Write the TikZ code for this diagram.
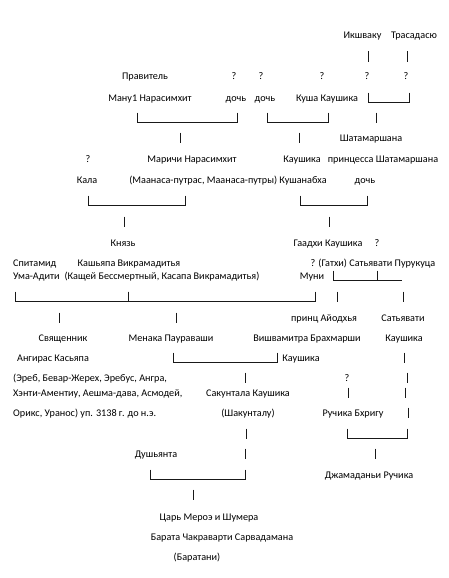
\documentclass[tikz,border=0pt]{standalone}
\usepackage{fontspec}
\setmainfont{Carlito}
\usepackage{tikz}
\tikzset{
  who/.style={anchor=base,inner sep=0pt,font=\fontsize{10.2}{12}\selectfont,text=black},
  whol/.style={who,anchor=base west},
  bar/.style={draw=black!90,line width=0.7pt},
}
% a lone "|" and a "|____|" bracket, given by x and baseline
\newcommand{\vb}[2]{\draw[bar] (#1,#2-8.5) -- (#1,#2+2);}
\newcommand{\brk}[3]{\draw[bar] (#1,#3-8.5) -- (#1,#3+2) (#1,#3+1.5) -- (#2,#3+1.5) (#2,#3-8.5) -- (#2,#3+2);}

\begin{document}
\begin{tikzpicture}[x=1pt,y=-1pt]
\useasboundingbox[fill=white] (0,0) rectangle (448,578);
\node[who](ik) at (362.5,39){Икшваку};\node[who](tr) at (414,39){Трасадасю};
\vb{368}{60}\vb{407}{60}
\node[who](prav) at (145,80){Правитель};\node[who](qa) at (234,80){?};\node[who](qb) at (261,80){?};
\node[who](qc) at (322,80){?};\node[who](qd) at (367,80){?};\node[who](qe) at (406,80){?};
\node[who](manu) at (150,101){Ману1 Нарасимхит};\node[who](da) at (236,101){дочь};\node[who](db) at (265,101){дочь};
\node[who](kusha) at (327,101){Куша Каушика};\brk{368}{409}{101}
\brk{137}{237}{121}\brk{267}{328}{121}\vb{376}{121}
\vb{180}{141}\vb{299}{141}\node[who](shat) at (371,141){Шатамаршана};
\node[who](qf) at (88,162){?};\node[who](mar) at (192,162){Маричи Нарасимхит};\node[who](kau1) at (302,162){Каушика};
\node[who](prin) at (383,162){принцесса Шатамаршана};
\node[who](kala) at (87,183){Кала};\node[who](maan) at (228,183){(Маанаса-путрас, Маанаса-путры) Кушанабха};\node[who](dc) at (365,183){дочь};
\brk{88}{185}{204}\brk{300}{367}{204}
\vb{124}{225}\vb{329}{225}
\node[who](kn) at (123,246){Князь};\node[who](gaad) at (328,246){Гаадхи Каушика};\node[who](qg) at (377,246){?};
\node[whol](spit) at (13,266){Спитамид};\node[who](kash) at (129,266){Кашьяпа Викрамадитья};
\node[who](gath) at (373,266){? (Гатхи) Сатьявати Пурукуца};
\node[whol](uma) at (13,279){Ума-Адити};\node[who](kasch) at (162,279){(Кащей Бессмертный, Касапа Викрамадитья)};
\node[who](muni) at (312,279){Муни};\brk{333}{377}{279}\draw[bar] (377,280.5) -- (402,280.5);
\brk{15}{128}{300}\brk{128}{315}{300}\vb{337}{300}\vb{403}{300}
\vb{59}{321}\vb{176}{321}\node[who](ayod) at (324,321){принц Айодхья};\node[who](saty) at (403,321){Сатьявати};
\node[who](svy) at (63,341){Священник};\node[who](men) at (171,341){Менака Паураваши};
\node[who](vish) at (307,341){Вишвамитра Брахмарши};\node[who](kau2) at (404,341){Каушика};
\node[who](ang) at (53,361){Ангирас Касьяпа};\brk{173}{277}{361}\node[who](kau3) at (301,361){Каушика};\vb{404}{361}
\node[whol](ereb) at (13,381){(Эреб, Бевар-Жерех, Эребус, Ангра,};\vb{245}{381}\node[who](qh) at (347,381){?};\vb{407}{381}
\node[whol](khen) at (13,396){Хэнти-Аментиу, Аешма-дава, Асмодей,};\node[who](sak) at (248,396){Сакунтала Каушика};
\vb{348}{396}\vb{405}{396}
\node[whol](orik) at (13,416){Орикс, Уранос) уп. 3138 г. до н.э.};\node[who](shak) at (248,416){(Шакунталу)};
\node[who](ruch) at (353,416){Ручика Бхригу};\vb{408}{416}
\vb{246}{437}\brk{347}{407}{437}
\node[who](dush) at (156,457){Душьянта};\vb{245}{457}\vb{375}{457}
\brk{150}{245}{478}\node[who](jam) at (369,478){Джамаданьи Ручика};
\vb{193}{498}
\node[who](tsar) at (209,520){Царь Мероэ и Шумера};
\node[who](bar) at (222,540){Барата Чакраварти Сарвадамана};
\node[who](bart) at (197,560){(Баратани)};
\end{tikzpicture}
\end{document}
